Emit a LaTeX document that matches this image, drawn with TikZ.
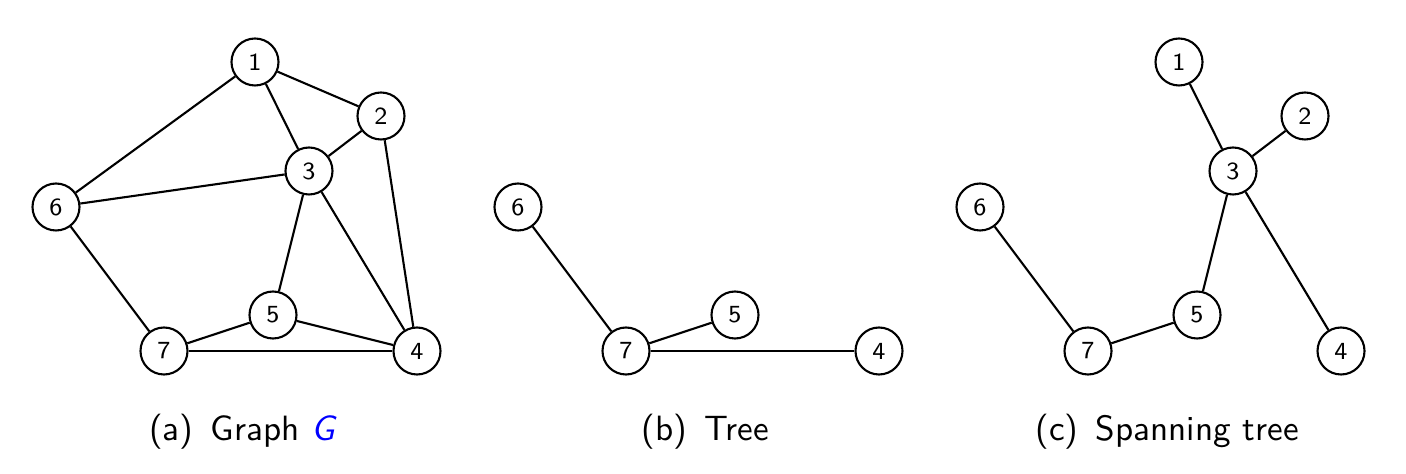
\documentclass[tikz,border=0pt]{standalone}
\usepackage{xcolor}
\renewcommand{\familydefault}{\sfdefault}
\tikzset{
  vertex/.style={draw,circle,semithick,minimum size=0.47cm,inner sep=0pt,font=\scriptsize\sffamily},
  edge/.style={semithick},
  subcap/.style={anchor=base,font=\normalsize\sffamily}
}
\begin{document}
\begin{tikzpicture}
            \useasboundingbox (0,0) rectangle (14.06,4.74);
            % (a) graph
            \begin{scope}
            \node[vertex] (a1) at (2.55,4.12) {1};
            \node[vertex] (a2) at (3.81,3.58) {2};
            \node[vertex] (a3) at (3.09,3.03) {3};
            \node[vertex] (a6) at (0.56,2.67) {6};
            \node[vertex] (a5) at (2.73,1.59) {5};
            \node[vertex] (a7) at (1.64,1.23) {7};
            \node[vertex] (a4) at (4.17,1.23) {4};
            \draw[edge] (a1) -- (a2);
            \draw[edge] (a1) -- (a3);
            \draw[edge] (a1) -- (a6);
            \draw[edge] (a2) -- (a3);
            \draw[edge] (a2) -- (a4);
            \draw[edge] (a3) -- (a6);
            \draw[edge] (a3) -- (a5);
            \draw[edge] (a3) -- (a4);
            \draw[edge] (a6) -- (a7);
            \draw[edge] (a7) -- (a5);
            \draw[edge] (a7) -- (a4);
            \draw[edge] (a5) -- (a4);
            \node[subcap] (capa) at (2.43,0.33) {(a)\enspace Graph \textcolor{blue}{\textit{G}}};
            \end{scope}
            % (b) tree
            \begin{scope}[xshift=4.62cm]
            \node[vertex] (b6) at (0.56,2.67) {6};
            \node[vertex] (b5) at (2.73,1.59) {5};
            \node[vertex] (b7) at (1.64,1.23) {7};
            \node[vertex] (b4) at (4.17,1.23) {4};
            \draw[edge] (b6) -- (b7);
            \draw[edge] (b7) -- (b5);
            \draw[edge] (b7) -- (b4);
            \node[subcap] (capb) at (2.43,0.33) {(b)\enspace Tree};
            \end{scope}
            % (c) spanning tree
            \begin{scope}[xshift=9.24cm]
            \node[vertex] (c1) at (2.55,4.12) {1};
            \node[vertex] (c2) at (3.81,3.58) {2};
            \node[vertex] (c3) at (3.09,3.03) {3};
            \node[vertex] (c6) at (0.56,2.67) {6};
            \node[vertex] (c5) at (2.73,1.59) {5};
            \node[vertex] (c7) at (1.64,1.23) {7};
            \node[vertex] (c4) at (4.17,1.23) {4};
            \draw[edge] (c1) -- (c3);
            \draw[edge] (c2) -- (c3);
            \draw[edge] (c3) -- (c5);
            \draw[edge] (c3) -- (c4);
            \draw[edge] (c6) -- (c7);
            \draw[edge] (c7) -- (c5);
            \node[subcap] (capc) at (2.43,0.33) {(c)\enspace Spanning tree};
            \end{scope}
\end{tikzpicture}
\end{document}
